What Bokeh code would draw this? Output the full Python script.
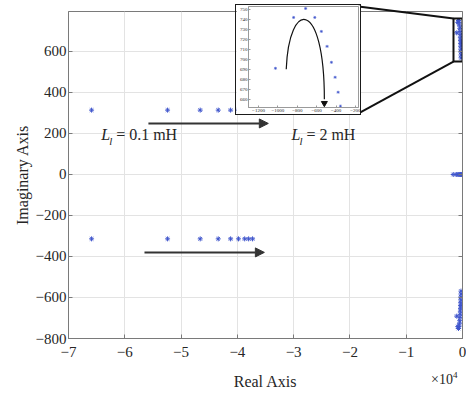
from bokeh.plotting import figure
from bokeh.models import Range1d, FixedTicker, Label, Arrow, NormalHead, LinearAxis, Div
from bokeh.embed import file_html
from bokeh.resources import INLINE

# ---------------- data ----------------
row_re = [-65900, -52400, -46600, -43400, -41200, -39800, -38700, -38000, -37300]
row_im = 314
axis_re = [-1650, -1100, -800, -600, -400, -250, -120, -50]
clus_re = [-1025, -838, -714, -620, -552, -493, -448, -410, -379, -355,
           -335, -318, -303, -290, -279, -270]
clus_im = [691, 742, 751, 742, 728, 713, 697, 682, 667, 653,
           639, 625, 611, 597, 583, 569]

x_ticks = [-70000, -60000, -50000, -40000, -30000, -20000, -10000, 0]
x_tick_labels = ["\u22127", "\u22126", "\u22125", "\u22124", "\u22123", "\u22122", "\u22121", "0"]
y_ticks = [-800, -600, -400, -200, 0, 200, 400, 600]
y_tick_labels = ["\u2212800", "\u2212600", "\u2212400", "\u2212200", "0", "200", "400", "600"]
inset_x_ticks = [-1200, -1000, -800, -600, -400, -200]
inset_y_ticks = [660, 670, 680, 690, 700, 710, 720, 730, 740, 750]

FONT = "Liberation Serif"
BLUE = "#3f55cc"
AXC = "#7a7a7a"
TXT = "#262626"

# ---------------- main figure ----------------
p = figure(width=466, height=393, x_range=Range1d(-70000, 0), y_range=Range1d(-800, 795),
           output_backend="svg", toolbar_location=None,
           min_border_left=68, min_border_right=4, min_border_top=11, min_border_bottom=55)
p.background_fill_color = "white"
p.outline_line_color = AXC
p.outline_line_width = 1

for ax, ticks, labels in ((p.xaxis[0], x_ticks, x_tick_labels), (p.yaxis[0], y_ticks, y_tick_labels)):
    ax.ticker = FixedTicker(ticks=ticks)
    ax.major_label_overrides = {t: l for t, l in zip(ticks, labels)}
    ax.axis_line_color = AXC
    ax.major_tick_line_color = AXC
    ax.major_tick_in = 4
    ax.major_tick_out = 0
    ax.minor_tick_line_color = None
    ax.major_label_text_font = FONT
    ax.major_label_text_font_size = "15px"
    ax.major_label_text_color = TXT
    ax.axis_label_text_font = FONT
    ax.axis_label_text_font_size = "16px"
    ax.axis_label_text_font_style = "normal"
    ax.axis_label_text_color = TXT
p.xaxis.axis_label = "Real Axis"
p.yaxis.axis_label = "Imaginary Axis"
p.xaxis.major_label_standoff = 8
p.xaxis.axis_label_standoff = 13
p.yaxis.major_label_standoff = 2
p.yaxis.axis_label_standoff = 2

# right ticks (box on)
rax = LinearAxis(ticker=FixedTicker(ticks=y_ticks),
                 major_label_overrides={t: "" for t in y_ticks},
                 major_label_standoff=0, major_tick_in=4, major_tick_out=0,
                 minor_tick_line_color=None, axis_line_color=AXC, major_tick_line_color=AXC)
p.add_layout(rax, "right")

p.xgrid.ticker = FixedTicker(ticks=x_ticks)
p.ygrid.ticker = FixedTicker(ticks=y_ticks)
p.grid.grid_line_color = "#e3e3e3"
p.grid.grid_line_width = 1

# poles
MS = 5
p.scatter(row_re, [row_im] * len(row_re), marker="asterisk", size=MS, line_color=BLUE, line_width=1)
p.scatter(row_re, [-row_im] * len(row_re), marker="asterisk", size=MS, line_color=BLUE, line_width=1)
p.scatter(axis_re, [0] * len(axis_re), marker="asterisk", size=MS, line_color=BLUE, line_width=1)
p.scatter(clus_re, clus_im, marker="asterisk", size=MS, line_color=BLUE, line_width=1)
p.scatter(clus_re, [-v for v in clus_im], marker="asterisk", size=MS, line_color=BLUE, line_width=1)

# zoom box and connectors
p.quad(left=-1600, right=0, bottom=551, top=761, fill_color=None, line_color="#111111", line_width=2)
p.segment(x0=[-18479, -18479], y0=[819, 298], x1=[-1600, -1600], y1=[761, 551],
          line_color="#111111", line_width=2, level="overlay")

# arrows
p.add_layout(Arrow(end=NormalHead(size=9, fill_color="#333333", line_color="#333333"),
                   x_start=-55800, y_start=249, x_end=-34500, y_end=249,
                   line_color="#333333", line_width=2))
p.add_layout(Arrow(end=NormalHead(size=9, fill_color="#333333", line_color="#333333"),
                   x_start=-56500, y_start=-380, x_end=-35200, y_end=-380,
                   line_color="#333333", line_width=2))

# L_l labels
def lbl(x, y, val, xo):
    p.add_layout(Label(x=x, y=y, x_offset=xo, y_offset=0, text="L", text_font=FONT,
                       text_font_style="italic", text_font_size="16px", text_color=TXT))
    p.add_layout(Label(x=x, y=y, x_offset=xo + 8, y_offset=-4, text="l", text_font=FONT,
                       text_font_style="italic", text_font_size="11px", text_color=TXT))
    p.add_layout(Label(x=x, y=y, x_offset=xo + 15, y_offset=0, text="= " + val, text_font=FONT,
                       text_font_size="16px", text_color=TXT))

lbl(-64200, 156, "0.1 mH", 0)
lbl(-30400, 156, "2 mH", 0)

# x10^4 exponent (absolutely positioned text)
expo = Div(text="\u00d710<sup style='font-size:9px'>4</sup>", width=40, height=20,
           styles={"position": "absolute", "left": "426px", "top": "363px",
                   "font-family": FONT, "font-size": "14px", "color": TXT, "line-height": "14px"})

# ---------------- inset ----------------
inset = figure(frame_width=110, frame_height=101, x_range=Range1d(-1303, -169), y_range=Range1d(651.7, 753),
               output_backend="svg", toolbar_location=None,
               min_border_left=9, min_border_right=2, min_border_top=1, min_border_bottom=4,
               styles={"position": "absolute", "left": "236px", "top": "5px",
                       "outline": "1.5px solid #1a1a1a"})
inset.background_fill_color = "white"
inset.border_fill_color = "white"
inset.outline_line_color = "#9a9a9a"
inset.grid.visible = False
for ax, ticks in ((inset.xaxis[0], inset_x_ticks), (inset.yaxis[0], inset_y_ticks)):
    ax.ticker = FixedTicker(ticks=ticks)
    ax.axis_line_color = "#9a9a9a"
    ax.major_tick_line_color = "#9a9a9a"
    ax.major_tick_in = 2
    ax.major_tick_out = 0
    ax.minor_tick_line_color = None
    ax.major_label_text_font = FONT
    ax.major_label_text_font_size = "5px"
    ax.major_label_text_color = TXT
    ax.major_label_standoff = 1

inset.scatter(clus_re, clus_im, marker="asterisk", size=3, line_color=BLUE, line_width=0.7)
inset.bezier(x0=[-914], y0=[690], x1=[-521], y1=[660], cx0=[-885], cy0=[761],
             cx1=[-521], cy1=[761], line_color="#111111", line_width=1.2)
inset.scatter([-521], [656], marker="inverted_triangle", size=6, fill_color="#111111", line_color="#111111")

open("out.html", "w").write(file_html([p, inset, expo], INLINE))
